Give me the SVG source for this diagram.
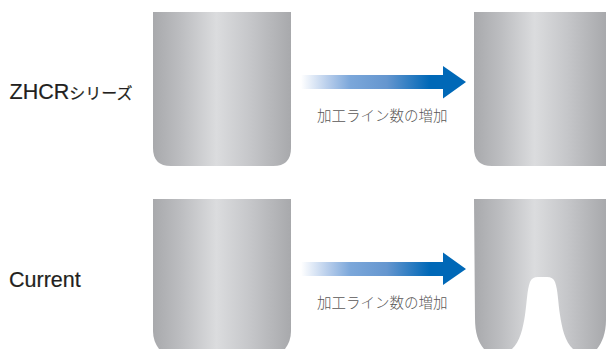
<svg xmlns="http://www.w3.org/2000/svg" width="606" height="349" viewBox="0 0 606 349">
<style>
.lab{font-family:"Liberation Sans","Noto Sans CJK JP",sans-serif;font-size:21.500px;font-weight:400;fill:#231f20;stroke:#231f20;stroke-width:.2px}
.cap{font-family:"Noto Sans CJK JP","Liberation Sans",sans-serif;font-size:14.500px;font-weight:300;fill:#595757}
</style>
<defs>
<linearGradient id="m" x1="0" y1="0" x2="1" y2="0">
<stop offset="0" stop-color="#a8a9ac"/><stop offset=".2" stop-color="#bcbdc0"/><stop offset=".46" stop-color="#dbdcde"/><stop offset=".7" stop-color="#c6c7ca"/><stop offset="1" stop-color="#a8a9ac"/>
</linearGradient>
<linearGradient id="a" gradientUnits="userSpaceOnUse" x1="301" y1="0" x2="466" y2="0">
<stop offset="0" stop-color="#ffffff"/><stop offset=".17" stop-color="#b4cbea"/><stop offset=".3" stop-color="#7ba7da"/><stop offset=".52" stop-color="#6596cf"/><stop offset=".78" stop-color="#0068b7"/><stop offset="1" stop-color="#0068b7"/>
</linearGradient>
</defs>
<g id="zhcr-label"><text class="lab" x="9.500" y="99"><tspan>ZHCR</tspan><tspan font-size="16">シリーズ</tspan></text></g>
<g id="current-label"><text class="lab" x="9" y="287">Current</text></g>
<g id="zhcr-before"><path fill="url(#m)" d="M153 12H291V148Q291 166 273 166H171Q153 166 153 148Z"/></g>
<g id="zhcr-after"><path fill="url(#m)" d="M474 12H606V166H492Q474 166 474 148Z"/></g>
<g id="current-before"><path fill="url(#m)" d="M153 199H291V331Q291 341 285 349H159Q153 341 153 331Z"/></g>
<g id="current-after"><path fill="url(#m)" d="M474 199H606V320C606 333 602 343 597 349H573C565 342 562 328 560 315C558 302 558 290 555 282Q553 277 547 277H538Q532 277 530 282C527 290 527 302 525 315C523 328 520 342 512 349H484C478 342 475 333 475 318Z"/></g>
<g id="connectors">
<path fill="url(#a)" d="M301 75H443V66L466 82L443 98.500V89H301Z"/>
<path fill="url(#a)" d="M301 262H443V252.500L466 269L443 285V276H301Z"/>
</g>
<g id="captions">
<text class="cap" x="317" y="120.500">加工ライン数の増加</text>
<text class="cap" x="317" y="307.500">加工ライン数の増加</text>
</g>
</svg>
